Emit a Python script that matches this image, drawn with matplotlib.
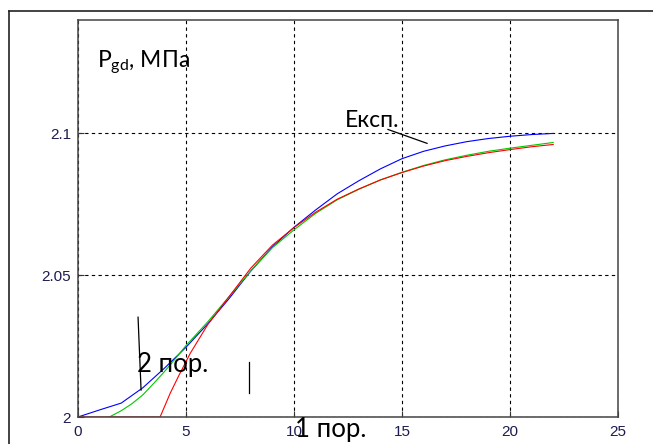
"""Pgd (МПа) vs час: експеримент і моделі 1-го та 2-го порядку."""
import numpy as np
import matplotlib
matplotlib.use("Agg")
import matplotlib.pyplot as plt
from matplotlib.lines import Line2D

plt.rcParams["mathtext.fontset"] = "custom"
plt.rcParams["mathtext.rm"] = "Lato"

TXT_FONT = ["Lato", "DejaVu Sans"]
TICK_FONT = ["Liberation Sans", "DejaVu Sans"]

# експеримент (синя)
x_exp = [0, 1, 2, 3, 4, 5, 6, 7, 8, 9, 10, 11, 12, 13, 14, 15, 16, 17, 18, 19, 20, 21, 22]
y_exp = [2.0000, 2.0025, 2.0049, 2.0103, 2.0172, 2.0246, 2.0328, 2.0418, 2.0515, 2.0600,
         2.0669, 2.0730, 2.0787, 2.0833, 2.0875, 2.0911, 2.0937, 2.0956, 2.0971, 2.0982,
         2.0990, 2.0996, 2.1000]

# модель 2-го порядку (зелена)
x_m2 = [1.45, 2.0, 2.5, 3.0, 3.5, 4.0, 4.5, 5.0, 6, 7, 8, 9, 10, 11, 12, 13, 14, 15, 16,
        17, 18, 19, 20, 21, 22]
y_m2 = [2.0000, 2.0022, 2.0047, 2.0078, 2.0118, 2.0160, 2.0205, 2.0252, 2.0335, 2.0425,
        2.0515, 2.0597, 2.0660, 2.0718, 2.0766, 2.0803, 2.0836, 2.0863, 2.0887, 2.0907,
        2.0923, 2.0937, 2.0948, 2.0958, 2.0968]

# модель 1-го порядку (червона)
x_m1 = [0, 3.8, 4.27, 4.68, 5.2, 6.0, 7, 8, 9, 10, 11, 12, 13, 14, 15, 16, 17, 18, 19,
        20, 21, 22]
y_m1 = [2.0000, 2.0000, 2.0084, 2.0148, 2.0225, 2.0325, 2.0425, 2.0525, 2.0606, 2.0668,
        2.0722, 2.0768, 2.0804, 2.0836, 2.0862, 2.0885, 2.0904, 2.0919, 2.0932, 2.0943,
        2.0953, 2.0961]

XTICKS = [0, 5, 10, 15, 20, 25]
YTICKS = [2.0, 2.05, 2.1]
YTICK_LABELS = ["2", "2.05", "2.1"]

fig = plt.figure(figsize=(6.53, 4.44), dpi=100)
ax = fig.add_axes([78 / 653, 1 - 417 / 444, 540 / 653, 397 / 444])

ax.plot(x_exp, y_exp, color="#0000ff", lw=0.8)
ax.plot(x_m2, y_m2, color="#00c800", lw=0.8)
ax.plot(x_m1, y_m1, color="#ff0000", lw=0.8)

ax.set_xlim(0, 25)
ax.set_ylim(2.0, 2.14)
ax.set_xticks(XTICKS)
ax.set_yticks(YTICKS)
ax.set_yticklabels(YTICK_LABELS)
ax.grid(True, color="black", lw=0.8, ls=(0, (3, 3)))
ax.tick_params(direction="in", length=4, width=0.8, colors="#333333",
               labelcolor="#1c1c50", labelsize=11, pad=5)
ax.tick_params(axis="x", pad=6)
for lab in ax.get_xticklabels() + ax.get_yticklabels():
    lab.set_family(TICK_FONT)
for sp in ax.spines.values():
    sp.set_color("#444444")
    sp.set_linewidth(1.1)

# підписи
ax.text(0.88, 2.1229, r"P$_\mathregular{gd}$, МПа", fontsize=16.5, family=TXT_FONT,
        va="baseline")
ax.text(12.36, 2.1021, "Експ.", fontsize=16.5, family=TXT_FONT, va="baseline")
ax.plot([14.35, 16.16], [2.1014, 2.0965], color="black", lw=0.9)

ax.text(2.73, 2.0158, "2 пор.", fontsize=18.5, family=TXT_FONT, va="baseline")
ax.plot([2.78, 2.92], [2.0352, 2.0095], color="black", lw=0.9)
ax.plot([7.92, 7.92], [2.0194, 2.0085], color="black", lw=0.9)

ax.text(10.05, 1.9928, "1 пор.", fontsize=18.5, family=TXT_FONT, va="baseline",
        clip_on=False)

# зовнішня рамка
fig.add_artist(Line2D([9 / 653, 1.0], [1 - 11 / 444, 1 - 11 / 444],
                      color="#222222", lw=1.2, transform=fig.transFigure))
fig.add_artist(Line2D([9 / 653, 9 / 653], [0.0, 1 - 11 / 444],
                      color="#222222", lw=1.2, transform=fig.transFigure))

fig.savefig("out.png", dpi=100)
